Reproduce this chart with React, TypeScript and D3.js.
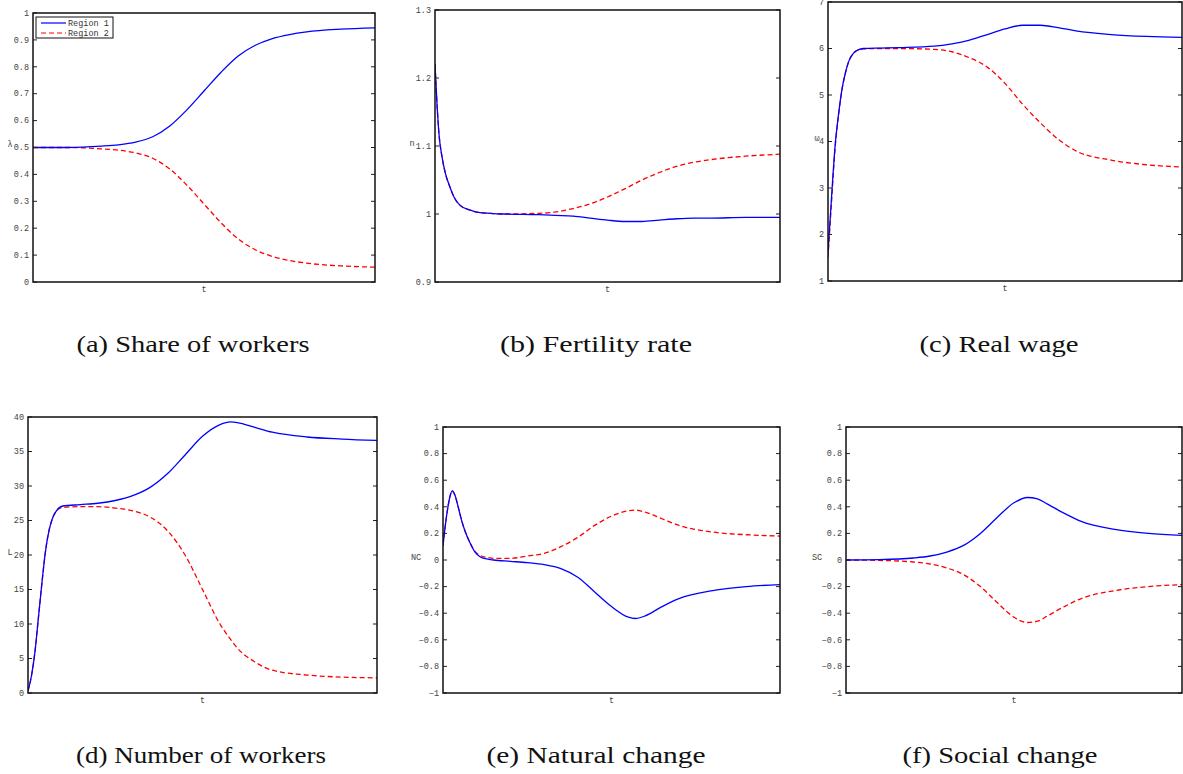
import React from 'react';
import * as d3 from 'd3';

// (a) share of workers
const tA = [0, 10, 20, 25, 30, 35, 40, 45, 50, 55, 60, 65, 70, 75, 80, 90, 100];
const aRegion1 = [0.5, 0.5, 0.505, 0.51, 0.52, 0.54, 0.58, 0.64, 0.71, 0.78, 0.84, 0.88, 0.905, 0.92, 0.93, 0.94, 0.945];
const aRegion2 = [0.5, 0.5, 0.495, 0.49, 0.48, 0.46, 0.42, 0.36, 0.29, 0.22, 0.16, 0.12, 0.095, 0.08, 0.07, 0.06, 0.055];

// (b) fertility rate
const tB = [0, 0.6, 1.2, 2, 3, 4.3, 5.5, 7.2, 10, 13, 16, 20, 30, 35, 40, 45, 50, 55, 60, 65, 70, 75, 80, 90, 100];
const bRegion1 = [1.22, 1.16, 1.115, 1.085, 1.06, 1.04, 1.025, 1.013, 1.006, 1.002, 1.001, 1.0, 0.999, 0.998, 0.997, 0.994, 0.991, 0.989, 0.989, 0.991, 0.993, 0.994, 0.994, 0.995, 0.995];
const bRegion2 = [1.22, 1.16, 1.115, 1.085, 1.06, 1.04, 1.025, 1.013, 1.006, 1.002, 1.001, 1.0, 1.001, 1.003, 1.008, 1.015, 1.025, 1.037, 1.05, 1.061, 1.07, 1.076, 1.08, 1.085, 1.088];

// (c) real wage
const tC = [0, 1, 2, 3, 4, 5, 6, 7, 8, 10, 15, 20, 30, 35, 40, 45, 50, 55, 60, 65, 70, 80, 90, 100];
const cRegion1 = [1.6, 2.8, 3.9, 4.6, 5.15, 5.5, 5.75, 5.88, 5.95, 6.0, 6.01, 6.02, 6.05, 6.1, 6.18, 6.3, 6.42, 6.5, 6.5, 6.45, 6.38, 6.3, 6.26, 6.24];
const cRegion2 = [1.5, 2.7, 3.85, 4.58, 5.13, 5.5, 5.75, 5.88, 5.95, 5.99, 6.0, 6.0, 5.98, 5.93, 5.8, 5.6, 5.25, 4.8, 4.4, 4.05, 3.8, 3.6, 3.5, 3.45];

// (d) number of workers
const tD = [0, 1, 2, 3, 4, 5, 6, 7, 8, 10, 15, 20, 25, 30, 35, 40, 45, 50, 55, 58, 60, 65, 70, 80, 90, 100];
const dRegion1 = [0.3, 2.5, 6, 11, 16, 20.5, 23.5, 25.3, 26.3, 27.1, 27.3, 27.5, 27.9, 28.6, 29.8, 31.8, 34.5, 37.2, 38.9, 39.3, 39.2, 38.5, 37.8, 37.1, 36.8, 36.6];
const dRegion2 = [0.3, 2.5, 6, 11, 16, 20.5, 23.5, 25.3, 26.3, 26.9, 27, 27, 26.8, 26.4, 25.5, 23.5, 20, 15, 10, 7.8, 6.5, 4.5, 3.3, 2.6, 2.3, 2.2];

// (e) natural change
const tE = [0, 1, 2, 2.7, 3.5, 4.5, 5.5, 6.5, 8, 9.5, 11, 13, 15, 20, 25, 30, 35, 40, 45, 50, 55, 57, 60, 65, 70, 80, 90, 100];
const eRegion1 = [0.11, 0.32, 0.47, 0.52, 0.49, 0.4, 0.3, 0.22, 0.13, 0.06, 0.025, 0.008, 0.0, -0.01, -0.02, -0.035, -0.065, -0.13, -0.24, -0.35, -0.43, -0.44, -0.42, -0.35, -0.29, -0.23, -0.2, -0.185];
const eRegion2 = [0.11, 0.32, 0.47, 0.52, 0.49, 0.4, 0.3, 0.22, 0.13, 0.065, 0.035, 0.02, 0.012, 0.012, 0.03, 0.05, 0.1, 0.17, 0.26, 0.33, 0.37, 0.375, 0.36, 0.31, 0.26, 0.21, 0.19, 0.18];

// (f) social change
const tF = [0, 10, 20, 25, 30, 35, 40, 45, 50, 54, 57, 60, 65, 70, 80, 90, 100];
const fRegion1 = [0, 0.003, 0.015, 0.03, 0.06, 0.11, 0.2, 0.32, 0.43, 0.47, 0.46, 0.42, 0.35, 0.29, 0.23, 0.2, 0.185];
const fRegion2 = [0, -0.003, -0.015, -0.03, -0.06, -0.11, -0.2, -0.32, -0.43, -0.47, -0.46, -0.42, -0.35, -0.29, -0.23, -0.2, -0.185];

const ticks01 = [0, 0.1, 0.2, 0.3, 0.4, 0.5, 0.6, 0.7, 0.8, 0.9, 1];
const ticksN = [0.9, 1, 1.1, 1.2, 1.3];
const ticksW = [1, 2, 3, 4, 5, 6, 7];
const ticksL = [0, 5, 10, 15, 20, 25, 30, 35, 40];
const ticksPM = [-1, -0.8, -0.6, -0.4, -0.2, 0, 0.2, 0.4, 0.6, 0.8, 1];

const seriesNames = ['Region 1', 'Region 2'];

const mono = '"Liberation Mono", "DejaVu Sans Mono", monospace';

type PanelProps = {
  x0: number; x1: number; y0: number; y1: number;
  t: number[]; s1: number[]; s2: number[];
  domain: [number, number]; ticks: number[];
  ylabel: string; ylabelX: number;
  caption: string; captionX: number; captionY: number; captionW: number;
  legend?: boolean;
};

function Panel(p: PanelProps) {
  const x = d3.scaleLinear().domain([0, 100]).range([p.x0, p.x1]);
  const y = d3.scaleLinear().domain(p.domain).range([p.y1, p.y0]);
  const line = d3.line<number>()
    .x((_, i) => x(p.t[i]))
    .y((d) => y(d))
    .curve(d3.curveMonotoneX);
  const fmt = (v: number) => d3.format('~g')(v).replace('-', '\u2212');
  const midY = (p.y0 + p.y1) / 2;
  const cx = (p.x0 + p.x1) / 2;
  const clipId = 'clip' + p.x0 + '_' + p.y0;
  return (
    <g>
      <defs>
        <clipPath id={clipId}>
          <rect x={p.x0} y={p.y0} width={p.x1 - p.x0} height={p.y1 - p.y0} />
        </clipPath>
      </defs>
      <g clipPath={'url(#' + clipId + ')'}>
        <path d={line(p.s2) || ''} fill="none" stroke="#ff0000" strokeWidth={1.3} strokeDasharray="5,3" />
        <path d={line(p.s1) || ''} fill="none" stroke="#0000ff" strokeWidth={1.3} />
      </g>
      {p.ticks.map((v) => (
        <g key={v}>
          <line x1={p.x0} x2={p.x0 + 4} y1={y(v)} y2={y(v)} stroke="#222" strokeWidth={1} />
          <line x1={p.x1 - 4} x2={p.x1} y1={y(v)} y2={y(v)} stroke="#222" strokeWidth={1} />
          <text x={p.x0 - 4} y={y(v)} dy="0.32em" textAnchor="end" fontFamily={mono} fontSize={8.5} fill="#444">{fmt(v)}</text>
        </g>
      ))}
      <rect x={p.x0} y={p.y0} width={p.x1 - p.x0} height={p.y1 - p.y0} fill="none" stroke="#111" strokeWidth={1.5} />
      <text x={p.ylabelX} y={midY - 3} dy="0.32em" textAnchor="middle" fontFamily={mono} fontSize={8.5} fill="#444">{p.ylabel}</text>
      <text x={cx} y={p.y1 + 10} textAnchor="middle" fontFamily={mono} fontSize={8.5} fill="#444">t</text>
      <text x={p.captionX} y={p.captionY} textAnchor="middle" fontFamily='"Liberation Serif", "DejaVu Serif", serif'
        fontSize={24} fill="#111" textLength={p.captionW} lengthAdjust="spacingAndGlyphs">{p.caption}</text>
      {p.legend && (
        <g>
          <rect x={p.x0 + 3} y={p.y0 + 4} width={77} height={21} fill="#fff" stroke="#111" strokeWidth={1} />
          {seriesNames.map((n, i) => (
            <g key={n}>
              <line x1={p.x0 + 8} x2={p.x0 + 33} y1={p.y0 + 10 + i * 10} y2={p.y0 + 10 + i * 10}
                stroke={i === 0 ? '#0000ff' : '#ff0000'} strokeWidth={1.2} strokeDasharray={i === 0 ? undefined : '5,3'} />
              <text x={p.x0 + 35} y={p.y0 + 10 + i * 10} dy="0.32em" fontFamily={mono} fontSize={8.5} fill="#333">{n}</text>
            </g>
          ))}
        </g>
      )}
    </g>
  );
}

export default function App() {
  return (
    <svg width={1183} height={774} style={{ position: 'absolute', left: 0, top: 0, background: '#fff' }}>
      <Panel x0={33} x1={375} y0={13} y1={282} t={tA} s1={aRegion1} s2={aRegion2} domain={[0, 1]} ticks={ticks01}
        ylabel="λ" ylabelX={10} caption="(a) Share of workers" captionX={193} captionY={352} captionW={233} legend />
      <Panel x0={435} x1={780} y0={10} y1={282} t={tB} s1={bRegion1} s2={bRegion2} domain={[0.9, 1.3]} ticks={ticksN}
        ylabel="n" ylabelX={412} caption="(b) Fertility rate" captionX={596} captionY={352} captionW={192} />
      <Panel x0={828} x1={1182} y0={2} y1={281} t={tC} s1={cRegion1} s2={cRegion2} domain={[1, 7]} ticks={ticksW}
        ylabel="ω" ylabelX={817} caption="(c) Real wage" captionX={999} captionY={352} captionW={159} />
      <Panel x0={28} x1={377} y0={417} y1={693} t={tD} s1={dRegion1} s2={dRegion2} domain={[0, 40]} ticks={ticksL}
        ylabel="L" ylabelX={10} caption="(d) Number of workers" captionX={201} captionY={763} captionW={250} />
      <Panel x0={443} x1={780} y0={427} y1={693} t={tE} s1={eRegion1} s2={eRegion2} domain={[-1, 1]} ticks={ticksPM}
        ylabel="NC" ylabelX={416} caption="(e) Natural change" captionX={596} captionY={763} captionW={219} />
      <Panel x0={846} x1={1182} y0={427} y1={693} t={tF} s1={fRegion1} s2={fRegion2} domain={[-1, 1]} ticks={ticksPM}
        ylabel="SC" ylabelX={817} caption="(f) Social change" captionX={1000} captionY={763} captionW={195} />
    </svg>
  );
}
